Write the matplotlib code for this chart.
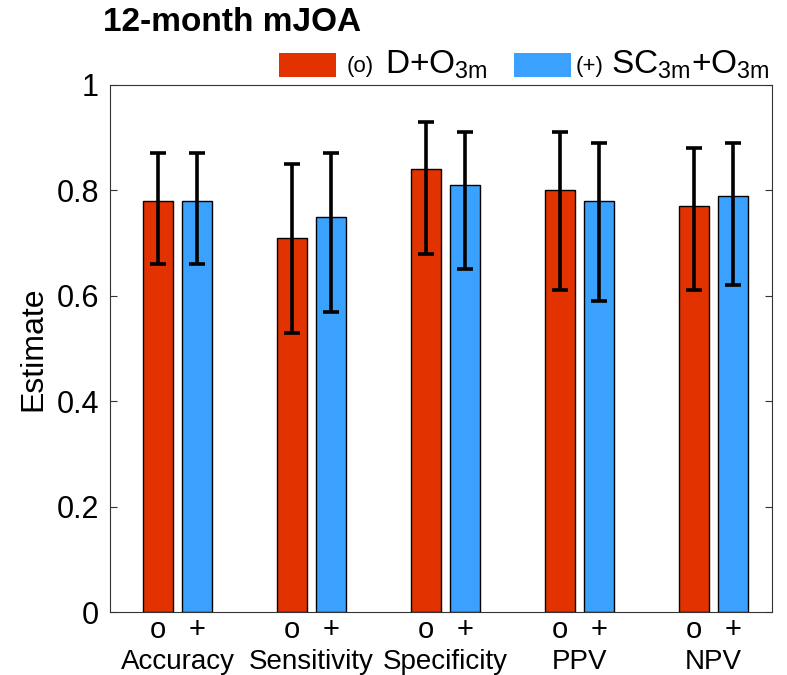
import numpy as np
import matplotlib
matplotlib.use("Agg")
import matplotlib.pyplot as plt
from matplotlib.patches import Rectangle
import matplotlib.transforms as mtransforms

plt.rcParams['font.family'] = ['Liberation Sans', 'DejaVu Sans']
plt.rcParams['mathtext.fontset'] = 'custom'
plt.rcParams['mathtext.rm'] = 'Liberation Sans'

categories = ["Accuracy", "Sensitivity", "Specificity", "PPV", "NPV"]
d_est = [0.78, 0.71, 0.84, 0.80, 0.77]
d_lo = [0.66, 0.53, 0.68, 0.61, 0.61]
d_hi = [0.87, 0.85, 0.93, 0.91, 0.88]
sc_est = [0.78, 0.75, 0.81, 0.78, 0.79]
sc_lo = [0.66, 0.57, 0.65, 0.59, 0.62]
sc_hi = [0.87, 0.87, 0.91, 0.89, 0.89]
yticks = [0, 0.2, 0.4, 0.6, 0.8, 1]
ytick_labels = ["0", "0.2", "0.4", "0.6", "0.8", "1"]

RED = "#E23200"
BLUE = "#3BA1FF"

fig = plt.figure(figsize=(7.87, 6.75), dpi=100)
ax = fig.add_axes([0.1398, 0.0933, 0.841, 0.781])

x = np.arange(1, len(categories) + 1)
off = 0.145; w = 0.224
xr = x - off; xb = x + off
d_est = np.array(d_est); sc_est = np.array(sc_est)
ax.bar(xr, d_est, w, color=RED, edgecolor="black", lw=1.0, zorder=2)
ax.bar(xb, sc_est, w, color=BLUE, edgecolor="black", lw=1.0, zorder=2)
ekw = dict(fmt="none", ecolor="black", elinewidth=2.6, capsize=5.5, capthick=2.6, zorder=3)
ax.errorbar(xr, d_est, yerr=[d_est - np.array(d_lo), np.array(d_hi) - d_est], **ekw)
ax.errorbar(xb, sc_est, yerr=[sc_est - np.array(sc_lo), np.array(sc_hi) - sc_est], **ekw)

ax.set_xlim(0.496, 5.437)
ax.set_ylim(0, 1)
ax.set_yticks(yticks)
ax.set_yticklabels(ytick_labels, fontsize=22)
ticks = np.ravel(np.column_stack([xr, xb]))
ax.set_xticks(ticks)
ax.set_xticklabels(["o", "+"] * len(categories), fontsize=21)
ax.tick_params(axis="x", length=0, pad=3)
ax.tick_params(axis="y", direction="in", length=5, right=True, pad=8, color="#333333")
for sp in ax.spines.values():
    sp.set_color("#333333"); sp.set_linewidth(0.8)

trans = mtransforms.blended_transform_factory(ax.transData, ax.transAxes)
for xi, name in zip(x, categories):
    ax.text(xi, -0.094, name, transform=trans, ha="center", va="center", fontsize=20)

ax.set_ylabel("Estimate", fontsize=23, labelpad=6)

fig.text(0.131, 0.967, "12-month mJOA", fontsize=24, fontweight="bold", va="center", ha="left")

# legend drawn manually
ly = 0.904
fig.patches.append(Rectangle((0.3545, 0.886), 0.0724, 0.0356, transform=fig.transFigure, facecolor=RED, edgecolor="none"))
fig.text(0.440, ly - 0.002, "(o)", fontsize=16, va="center")
fig.text(0.489, ly, r"D+O$_{\mathregular{3m}}$", fontsize=24, va="center")
fig.patches.append(Rectangle((0.653, 0.886), 0.0724, 0.0356, transform=fig.transFigure, facecolor=BLUE, edgecolor="none"))
fig.text(0.732, ly - 0.002, "(+)", fontsize=16, va="center")
fig.text(0.776, ly, r"SC$_{\mathregular{3m}}$+O$_{\mathregular{3m}}$", fontsize=24, va="center")

fig.savefig("out.png", dpi=100)
